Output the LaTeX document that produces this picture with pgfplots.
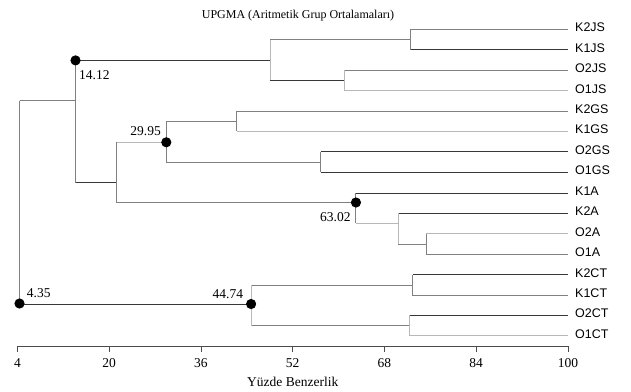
\documentclass[border=0pt]{standalone}
\usepackage{pgfplots}
\pgfplotsset{compat=1.18}
\usepackage{fontspec}
\setmainfont{Liberation Serif}
\newfontfamily\arial{Liberation Sans}
\definecolor{dk}{gray}{0.22}
\definecolor{md}{gray}{0.50}
\definecolor{lt}{gray}{0.72}
\newcommand{\tm}{\fontsize{13.5}{16}\selectfont}
\newcommand{\ttl}{\fontsize{12}{14}\selectfont}
\newcommand{\lf}{\arial\fontsize{12.5}{14}\selectfont}
\tikzset{leaf/.style={font=\lf, inner sep=0, anchor=base west, xshift=7pt, yshift=-2.5pt}}
\begin{document}
\begin{tikzpicture}
\begin{axis}[
  x=5.734pt, y=1pt,
  xmin=4, xmax=100, ymin=-345.7, ymax=-20,
  enlargelimits=false,
  clip=false,
  axis x line=bottom, axis y line=none,
  axis line style={black!70, -},
  xtick={4,20,36,52,68,84,100},
  tick align=outside, major tick length=6pt,
  tick style={black!70, line width=0.6pt},
  /pgf/number format/assume math mode=true,
  ticklabel style={font=\tm},
  xticklabel style={yshift=-3.5pt},
  xlabel={Yüzde Benzerlik},
  xlabel style={font=\tm, at={(0.5,-0.1124)}, anchor=center},
  unbounded coords=jump,
  every axis plot/.append style={line width=0.9pt, mark=none},
]
% dark segments
\addplot[dk] coordinates {
(72.45,-49.8)(100,-49.8) (100,nan)
(48.04,-80.4)(60.94,-80.4) (100,nan)
(14.12,-60)(48.04,-60) (100,nan)
(14.12,-182.7)(21.3,-182.7) (100,nan)
(56.88,-151.9)(100,-151.9) (100,nan)
(56.88,-172.3)(100,-172.3) (100,nan)
(63.02,-193)(100,-193) (100,nan)
(70.41,-213.3)(100,-213.3) (100,nan)
(4.35,-304)(44.74,-304) (100,nan)
(72.92,-274.6)(100,-274.6) (100,nan)
(72.28,-315.4)(100,-315.4)
};
% medium segments
\addplot[md] coordinates {
(100,-29.5)(72.45,-29.5)(72.45,-49.8) (100,nan)
(48.04,-39.6)(72.45,-39.6) (100,nan)
(60.94,-70.2)(100,-70.2) (100,nan)
(14.12,-60)(14.12,-182.7) (100,nan)
(4.35,-100.7)(14.12,-100.7) (100,nan)
(21.3,-142.3)(21.3,-202.7) (100,nan)
(42.23,-121.2)(29.95,-121.2)(29.95,-162.1)(56.88,-162.1) (100,nan)
(100,-111)(42.23,-111)(42.23,-131.4) (100,nan)
(56.88,-151.9)(56.88,-172.3) (100,nan)
(21.3,-202.7)(63.02,-202.7) (100,nan)
(63.02,-193)(63.02,-223.3) (100,nan)
(70.41,-244)(75.24,-244) (100,nan)
(75.24,-233.6)(75.24,-254)(100,-254) (100,nan)
(4.35,-100.7)(4.35,-304) (100,nan)
(44.74,-285)(72.92,-285) (100,nan)
(44.74,-325.6)(72.28,-325.6) (100,nan)
(72.92,-274.6)(72.92,-295)(100,-295)
};
% light segments
\addplot[lt] coordinates {
(60.94,-70.2)(60.94,-90.6)(100,-90.6) (100,nan)
(48.04,-39.6)(48.04,-80.4) (100,nan)
(21.3,-142.3)(29.95,-142.3) (100,nan)
(42.23,-131.4)(100,-131.4) (100,nan)
(63.02,-223.3)(70.41,-223.3) (100,nan)
(70.41,-213.3)(70.41,-244) (100,nan)
(75.24,-233.6)(100,-233.6) (100,nan)
(44.74,-285)(44.74,-325.6) (100,nan)
(72.28,-315.4)(72.28,-335.8)(100,-335.8)
};
% cluster nodes
\addplot[only marks, mark=*, mark size=4.6pt, black] coordinates {
(4.35,-303.5)(14.12,-60.4)(29.95,-142.3)(44.74,-304)(63.02,-202.5)
};
% title
\node[font=\ttl, inner sep=0, anchor=base] at (axis cs:52.92,-18.3) {UPGMA (Aritmetik Grup Ortalamaları)};
% node labels
\node[font=\tm, inner sep=0, anchor=base west] at (axis cs:5.6,-297.9) {4.35};
\node[font=\tm, inner sep=0, anchor=base west] at (axis cs:14.73,-79.6) {14.12};
\node[font=\tm, inner sep=0, anchor=base east] at (axis cs:29.03,-135.3) {29.95};
\node[font=\tm, inner sep=0, anchor=base east] at (axis cs:43.38,-298.9) {44.74};
\node[font=\tm, inner sep=0, anchor=base east] at (axis cs:62.11,-221.3) {63.02};
% leaf labels
\node[leaf] at (axis cs:100,-29.5) {K2JS};
\node[leaf] at (axis cs:100,-49.8) {K1JS};
\node[leaf] at (axis cs:100,-70.2) {O2JS};
\node[leaf] at (axis cs:100,-90.6) {O1JS};
\node[leaf] at (axis cs:100,-111) {K2GS};
\node[leaf] at (axis cs:100,-131.4) {K1GS};
\node[leaf] at (axis cs:100,-151.9) {O2GS};
\node[leaf] at (axis cs:100,-172.3) {O1GS};
\node[leaf] at (axis cs:100,-193) {K1A};
\node[leaf] at (axis cs:100,-213.3) {K2A};
\node[leaf] at (axis cs:100,-233.6) {O2A};
\node[leaf] at (axis cs:100,-254) {O1A};
\node[leaf] at (axis cs:100,-274.6) {K2CT};
\node[leaf] at (axis cs:100,-295) {K1CT};
\node[leaf] at (axis cs:100,-315.4) {O2CT};
\node[leaf] at (axis cs:100,-335.8) {O1CT};
\coordinate (bbtl) at (axis cs:0.948,0);
\coordinate (bbbr) at (axis cs:110.99,-391);
\end{axis}
\pgfresetboundingbox
\useasboundingbox (bbtl) rectangle (bbbr);
\end{tikzpicture}
\end{document}
